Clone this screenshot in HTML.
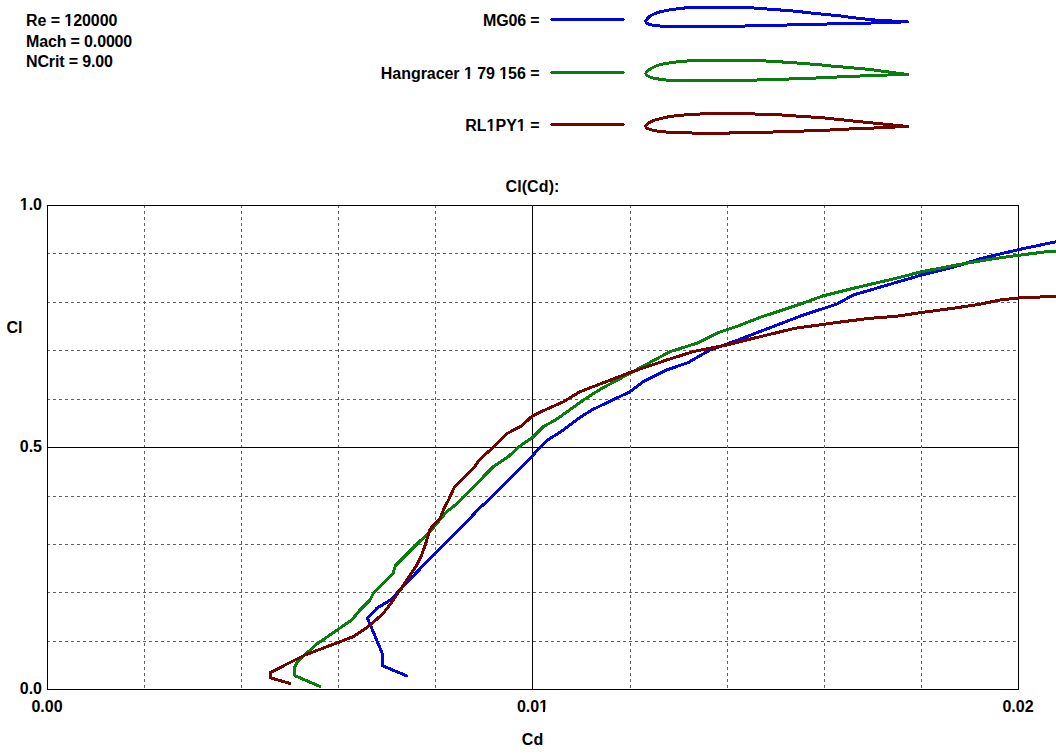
<!DOCTYPE html>
<html><head><meta charset="utf-8"><title>Cl(Cd)</title>
<style>
html,body{margin:0;padding:0;background:#fff;}
body{width:1056px;height:756px;overflow:hidden;}
svg{display:block;}
text{font-family:"Liberation Sans",sans-serif;font-weight:bold;font-size:16px;fill:#000;}
.c{fill:none;shape-rendering:crispEdges;stroke-width:3;stroke-linejoin:round;stroke-linecap:round;}
</style></head><body>
<svg width="1056" height="756" viewBox="0 0 1056 756">
<rect width="1056" height="756" fill="#fff"/>
<g shape-rendering="crispEdges">
<line x1="144.5" y1="205" x2="144.5" y2="689" stroke="#606060" stroke-width="1" stroke-dasharray="3 3"/>
<line x1="47" y1="253.5" x2="1018" y2="253.5" stroke="#606060" stroke-width="1" stroke-dasharray="3 3"/>
<line x1="241.5" y1="205" x2="241.5" y2="689" stroke="#606060" stroke-width="1" stroke-dasharray="3 3"/>
<line x1="47" y1="302.5" x2="1018" y2="302.5" stroke="#606060" stroke-width="1" stroke-dasharray="3 3"/>
<line x1="338.5" y1="205" x2="338.5" y2="689" stroke="#606060" stroke-width="1" stroke-dasharray="3 3"/>
<line x1="47" y1="350.5" x2="1018" y2="350.5" stroke="#606060" stroke-width="1" stroke-dasharray="3 3"/>
<line x1="435.5" y1="205" x2="435.5" y2="689" stroke="#606060" stroke-width="1" stroke-dasharray="3 3"/>
<line x1="47" y1="399.5" x2="1018" y2="399.5" stroke="#606060" stroke-width="1" stroke-dasharray="3 3"/>
<line x1="532.5" y1="205" x2="532.5" y2="689" stroke="#000" stroke-width="1"/>
<line x1="47" y1="447.5" x2="1018" y2="447.5" stroke="#000" stroke-width="1"/>
<line x1="630.5" y1="205" x2="630.5" y2="689" stroke="#606060" stroke-width="1" stroke-dasharray="3 3"/>
<line x1="47" y1="496.5" x2="1018" y2="496.5" stroke="#606060" stroke-width="1" stroke-dasharray="3 3"/>
<line x1="727.5" y1="205" x2="727.5" y2="689" stroke="#606060" stroke-width="1" stroke-dasharray="3 3"/>
<line x1="47" y1="544.5" x2="1018" y2="544.5" stroke="#606060" stroke-width="1" stroke-dasharray="3 3"/>
<line x1="824.5" y1="205" x2="824.5" y2="689" stroke="#606060" stroke-width="1" stroke-dasharray="3 3"/>
<line x1="47" y1="592.5" x2="1018" y2="592.5" stroke="#606060" stroke-width="1" stroke-dasharray="3 3"/>
<line x1="921.5" y1="205" x2="921.5" y2="689" stroke="#606060" stroke-width="1" stroke-dasharray="3 3"/>
<line x1="47" y1="641.5" x2="1018" y2="641.5" stroke="#606060" stroke-width="1" stroke-dasharray="3 3"/>
<rect x="47.5" y="205.5" width="971" height="484" fill="none" stroke="#000" stroke-width="1"/>
</g>
<text x="26" y="25.5" letter-spacing="-0.07">Re = 120000</text>
<text x="26" y="47" letter-spacing="-0.15">Mach = 0.0000</text>
<text x="26" y="66.5" letter-spacing="-0.135">NCrit = 9.00</text>
<text x="539.5" y="25.5" text-anchor="end" letter-spacing="-0.16">MG06 =</text>
<text x="539.5" y="78.5" text-anchor="end" letter-spacing="-0.05">Hangracer 1 79 156 =</text>
<text x="539.5" y="130.7" text-anchor="end">RL1PY1 =</text>
<g shape-rendering="crispEdges">
<rect x="551" y="18" width="73" height="3" fill="#0006dc"/><rect x="550" y="19" width="75" height="1" fill="#0006dc"/>
<rect x="551" y="71" width="73" height="3" fill="#0a7d0f"/><rect x="550" y="72" width="75" height="1" fill="#0a7d0f"/>
<rect x="551" y="123" width="73" height="3" fill="#730500"/><rect x="550" y="124" width="75" height="1" fill="#730500"/>
</g>
<path class="c" d="M907.3,21.8C904.8,21.7 897.3,21.3 892.0,21.0C886.7,20.7 880.0,20.4 875.6,20.1C871.2,19.8 869.2,19.5 865.8,19.1C862.4,18.7 858.1,18.3 855.0,17.9C851.9,17.5 849.5,17.2 847.0,16.9C844.5,16.6 842.8,16.2 840.0,15.9C837.2,15.6 833.8,15.3 830.0,14.9C826.2,14.5 821.5,14.1 817.3,13.7C813.1,13.3 809.2,12.8 805.0,12.3C800.8,11.8 796.5,11.3 792.0,10.9C787.5,10.5 782.6,10.2 778.0,9.8C773.4,9.5 769.0,9.1 764.5,8.8C760.0,8.5 754.5,8.0 751.3,7.8C748.0,7.6 749.9,7.5 745.0,7.4C740.1,7.3 730.0,7.0 722.0,7.0C714.0,7.0 703.1,7.1 697.0,7.3C690.9,7.5 688.9,7.6 685.5,7.9C682.1,8.2 679.3,8.6 676.4,9.0C673.5,9.4 670.9,9.7 668.0,10.2C665.1,10.7 661.7,11.3 658.9,12.2C656.1,13.0 653.3,14.3 651.4,15.3C649.5,16.3 648.5,17.3 647.6,18.3C646.7,19.3 645.7,20.4 645.7,21.3C645.7,22.2 646.5,23.0 647.6,23.6C648.7,24.2 649.6,24.7 652.1,25.1C654.6,25.5 658.1,26.0 662.7,26.2C667.4,26.4 670.5,26.4 680.0,26.5C689.5,26.6 708.4,26.6 720.0,26.5C731.6,26.4 737.5,26.2 749.4,25.9C761.3,25.6 777.9,25.2 791.6,24.9C805.3,24.6 817.7,24.2 831.7,23.9C845.7,23.6 863.0,23.2 875.6,22.9C888.2,22.5 902.0,22.0 907.3,21.8" stroke="#0006dc"/>
<path class="c" d="M907.5,74.4C904.6,74.0 895.1,72.9 890.0,72.2C884.9,71.5 880.3,71.0 877.0,70.5C873.7,70.0 873.2,69.8 870.3,69.5C867.3,69.2 862.7,68.8 859.3,68.5C855.9,68.2 853.1,67.9 850.0,67.6C846.9,67.3 844.4,67.1 840.9,66.8C837.4,66.5 832.3,66.1 828.8,65.8C825.3,65.5 823.2,65.1 819.7,64.8C816.2,64.5 812.0,64.1 807.6,63.8C803.2,63.5 798.3,63.1 793.6,62.8C788.9,62.5 784.3,62.1 779.2,61.8C774.1,61.5 767.0,61.0 763.0,60.8C759.0,60.6 760.8,60.5 755.0,60.4C749.2,60.3 737.7,60.0 728.0,60.0C718.3,60.0 703.8,60.2 697.0,60.4C690.2,60.6 690.2,60.8 687.0,61.0C683.8,61.2 680.9,61.5 677.9,61.8C674.9,62.1 671.8,62.5 668.8,63.0C665.8,63.5 662.4,64.0 659.7,64.8C657.1,65.5 654.8,66.5 652.9,67.5C651.0,68.5 649.5,69.5 648.3,70.5C647.1,71.5 645.7,72.8 645.7,73.8C645.7,74.8 647.0,75.5 648.3,76.2C649.6,76.9 651.5,77.6 653.6,78.1C655.8,78.6 658.7,79.1 661.2,79.4C663.7,79.8 664.8,80.0 668.8,80.2C672.8,80.4 676.5,80.5 685.0,80.6C693.5,80.7 707.2,80.8 720.0,80.7C732.8,80.6 749.4,80.2 761.5,79.9C773.6,79.6 782.9,79.2 792.4,78.9C801.9,78.6 810.8,78.2 818.6,77.9C826.4,77.6 832.1,77.2 839.4,76.9C846.7,76.6 854.2,76.2 862.3,75.9C870.3,75.6 880.2,75.2 887.7,75.0C895.2,74.8 904.2,74.5 907.5,74.4" stroke="#0a7d0f"/>
<path class="c" d="M907.5,126.4C905.4,126.2 899.3,125.6 895.0,125.2C890.7,124.8 885.6,124.3 881.7,123.9C877.8,123.5 875.1,123.2 871.8,122.9C868.5,122.6 865.3,122.2 862.0,121.9C858.7,121.6 855.5,121.2 852.2,120.9C849.0,120.6 845.8,120.2 842.5,119.9C839.2,119.6 836.0,119.2 832.6,118.8C829.2,118.4 826.5,118.1 822.3,117.8C818.1,117.5 812.5,117.1 807.6,116.8C802.7,116.5 797.6,116.1 792.8,115.8C787.9,115.5 785.9,115.1 778.5,114.8C771.1,114.5 757.0,114.1 748.6,113.8C740.2,113.5 734.5,113.2 728.0,113.2C721.5,113.2 714.0,113.7 709.3,113.8C704.6,113.9 703.4,113.9 700.0,114.0C696.6,114.1 692.5,114.4 689.2,114.6C685.9,114.8 683.4,115.1 680.2,115.4C677.1,115.7 673.3,116.0 670.3,116.5C667.3,117.0 664.8,117.5 662.0,118.2C659.2,118.9 655.9,119.7 653.6,120.5C651.3,121.3 649.6,122.2 648.3,123.2C647.0,124.2 645.7,125.3 645.7,126.2C645.7,127.1 646.7,128.1 648.3,128.8C649.9,129.6 652.3,130.2 655.2,130.7C658.1,131.2 662.0,131.7 665.8,132.0C669.6,132.3 674.1,132.4 678.0,132.6C681.9,132.8 683.9,132.8 689.2,132.9C694.5,133.1 702.6,133.5 710.0,133.5C717.4,133.5 722.2,133.2 733.5,132.9C744.8,132.6 765.4,132.2 777.7,131.9C790.1,131.6 798.5,131.2 807.6,130.9C816.8,130.6 825.3,130.2 832.6,129.9C839.9,129.6 844.3,129.2 851.6,128.9C858.9,128.6 867.1,128.3 876.4,127.9C885.7,127.5 902.3,126.7 907.5,126.4" stroke="#730500"/>
<text x="532.5" y="191.5" text-anchor="middle" letter-spacing="0.1">Cl(Cd):</text>
<text x="42" y="209.7" text-anchor="end">1.0</text>
<text x="42" y="451.7" text-anchor="end">0.5</text>
<text x="42" y="693.7" text-anchor="end">0.0</text>
<text x="6.5" y="332.6">Cl</text>
<text x="47" y="711.7" text-anchor="middle">0.00</text>
<text x="532.5" y="711.7" text-anchor="middle">0.01</text>
<text x="1018" y="711.7" text-anchor="middle">0.02</text>
<text x="532.5" y="744.7" text-anchor="middle">Cd</text>
<!--MASKS--><g><rect x="64.23" y="23.30" width="3.83" height="2.9" fill="#fff"/><rect x="70.26" y="23.30" width="3.37" height="2.9" fill="#fff"/><rect x="463.82" y="76.30" width="3.83" height="2.9" fill="#fff"/><rect x="469.85" y="76.30" width="4.67" height="2.9" fill="#fff"/><rect x="499.15" y="76.30" width="3.83" height="2.9" fill="#fff"/><rect x="505.18" y="76.30" width="3.37" height="2.9" fill="#fff"/><rect x="486.46" y="128.50" width="3.83" height="2.9" fill="#fff"/><rect x="492.49" y="128.50" width="3.37" height="2.9" fill="#fff"/><rect x="516.70" y="128.50" width="3.83" height="2.9" fill="#fff"/><rect x="522.73" y="128.50" width="4.67" height="2.9" fill="#fff"/><rect x="19.65" y="207.50" width="3.83" height="2.9" fill="#fff"/><rect x="25.68" y="207.50" width="3.37" height="2.9" fill="#fff"/><rect x="539.06" y="709.50" width="3.83" height="2.9" fill="#fff"/><rect x="545.09" y="709.50" width="4.67" height="2.9" fill="#fff"/></g><!--/MASKS-->
<polyline class="c" points="406.7,675.8 382.5,665.8 382.3,653.5 367.5,618.3 376.8,608.3 390.5,600.0 430.8,557.5 470.0,518.3 479.2,508.3 488.7,500.0 532.5,455.8 540.0,447.2 547.8,440.0 563.3,430.0 580.0,417.5 591.7,410.0 630.0,391.7 643.3,381.7 666.7,370.0 688.3,362.5 710.0,350.0 736.0,340.8 753.3,334.1 803.3,315.0 836.7,304.2 853.3,295.0 896.0,282.5 921.7,275.0 955.0,266.7 980.0,258.7 1018.3,249.7 1058.0,241.3" stroke="#0006dc"/>
<polyline class="c" points="319.7,686.3 295.0,675.8 294.2,667.5 298.3,660.8 316.7,644.2 338.3,629.2 351.7,620.0 360.0,610.0 370.0,600.0 373.3,593.3 393.2,573.4 394.3,569.0 395.6,565.3 416.7,544.2 430.0,531.7 446.7,511.7 453.3,506.7 460.5,500.0 493.3,466.7 508.3,456.7 518.3,447.2 532.5,437.5 543.3,426.7 556.7,419.2 585.0,399.0 601.7,388.4 630.0,373.3 646.7,364.2 670.0,351.7 696.7,343.3 718.3,332.5 736.0,326.7 760.0,317.4 800.0,304.2 823.3,295.8 853.3,288.3 896.0,278.3 921.7,271.7 963.3,263.7 996.7,258.3 1018.3,255.3 1046.7,251.7 1058.0,251.0" stroke="#0a7d0f"/>
<polyline class="c" points="289.7,683.3 270.8,678.0 270.3,672.5 305.0,655.0 353.5,636.6 370.0,625.3 383.3,613.3 393.3,600.0 406.7,580.0 415.8,566.7 421.7,555.0 425.8,543.3 430.0,529.2 440.0,518.3 444.2,508.3 448.5,500.0 454.2,487.5 474.2,467.5 479.2,460.0 493.3,447.2 507.5,433.3 521.7,425.8 532.5,415.8 546.7,409.2 563.0,402.0 580.0,391.7 630.0,372.5 666.7,360.0 693.3,351.6 726.7,345.0 753.3,338.3 795.0,328.3 836.7,322.5 870.0,318.3 896.0,316.3 921.7,312.5 955.0,308.0 980.0,304.2 1000.0,300.0 1018.3,298.0 1058.0,296.2" stroke="#730500"/>
</svg>
</body></html>
